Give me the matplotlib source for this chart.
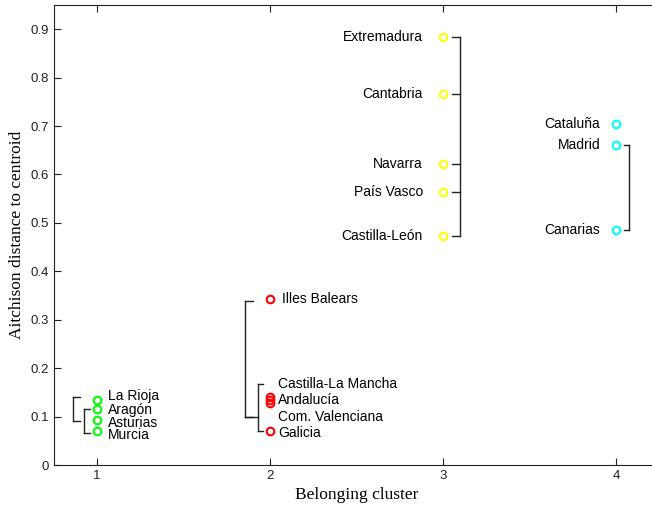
import matplotlib.pyplot as plt
import numpy as np

# regions, cluster they belong to and Aitchison distance to the centroid
regions = ['La Rioja', 'Aragón', 'Asturias', 'Murcia',
           'Illes Balears', 'Castilla-La Mancha', 'Andalucía', 'Com. Valenciana', 'Galicia',
           'Extremadura', 'Cantabria', 'Navarra', 'País Vasco', 'Castilla-León',
           'Cataluña', 'Madrid', 'Canarias']
cluster = [1, 1, 1, 1,
           2, 2, 2, 2, 2,
           3, 3, 3, 3, 3,
           4, 4, 4]
distance = [0.134, 0.115, 0.093, 0.070,
            0.342, 0.141, 0.135, 0.129, 0.070,
            0.883, 0.766, 0.622, 0.564, 0.472,
            0.704, 0.661, 0.486]
# where the names are written (spread out where the points overlap)
label_y = [0.143, 0.114, 0.087, 0.061,
           0.342, 0.167, 0.134, 0.100, 0.066,
           0.883, 0.766, 0.622, 0.564, 0.472,
           0.704, 0.661, 0.486]

colors = {1: '#00ff00', 2: '#ff0000', 3: '#ffff00', 4: '#00ffff'}

plt.rcParams['font.family'] = ['Liberation Sans', 'DejaVu Sans']

fig = plt.figure(figsize=(6.52, 5.11), dpi=100)
# axes runs past the right border like in the original
ax = fig.add_axes([53.75 / 652, 46 / 511, 605.5 / 652, 460 / 511])

for c in [1, 2, 3, 4]:
    idx = [i for i in range(len(regions)) if cluster[i] == c]
    ax.plot([cluster[i] for i in idx], [distance[i] for i in idx], 'o', ls='none',
            mfc='none', mec=colors[c], ms=5.5, mew=1.5, zorder=3)

for i in range(len(regions)):
    c = cluster[i]
    if c in [1, 2]:
        x = c + (0.064 if c == 1 else 0.046)
        if regions[i] == 'Illes Balears':
            x = c + 0.07
        ax.text(x, label_y[i], regions[i], ha='left', va='center', fontsize=10)
    else:
        x = c - (0.116 if c == 3 else 0.092)
        ax.text(x, label_y[i], regions[i], ha='right', va='center', fontsize=10)


def d(name):
    return distance[regions.index(name)]


def ly(name):
    return label_y[regions.index(name)]


def bracket(xv, xe, ys):
    # vertical line at xv with small horizontal ticks to xe at each y
    ax.plot([xv, xv], [min(ys), max(ys)], color='#222222', lw=1)
    for y in ys:
        ax.plot([xv, xe], [y, y], color='#222222', lw=1)


# cluster 1
inner1 = [d('Aragón') + 0.001, d('Murcia') - 0.004]
bracket(0.925, 0.96, inner1)
bracket(0.861, 0.90, [d('La Rioja') + 0.006, np.mean(inner1)])
# cluster 2
inner2 = [ly('Castilla-La Mancha'), d('Galicia')]
bracket(1.93, 1.96, inner2)
bracket(1.855, 1.90, [d('Illes Balears') - 0.003, ly('Com. Valenciana')])
bracket(1.855, 1.93, [ly('Com. Valenciana')])
# cluster 3
bracket(3.098, 3.05, [d(r) for r in ['Extremadura', 'Cantabria', 'Navarra', 'País Vasco', 'Castilla-León']])
# cluster 4
bracket(4.075, 4.046, [d('Madrid'), d('Canarias')])

ax.set_xlim(0.75, 4.25)
ax.set_ylim(0, 0.95)
ax.set_xticks([1, 2, 3, 4])
ax.set_yticks(np.arange(0, 0.91, 0.1))
ax.set_yticklabels(['0', '0.1', '0.2', '0.3', '0.4', '0.5', '0.6', '0.7', '0.8', '0.9'])
ax.tick_params(direction='in', top=True, right=True, length=5, labelsize=9.5,
               colors='#222222', labelcolor='#222222')
for s in ax.spines.values():
    s.set_color('#222222')
ax.set_xlabel('Belonging cluster', family=['Liberation Serif'], fontsize=12.5)
ax.set_ylabel('Aitchison distance to centroid', family=['Liberation Serif'], fontsize=12.5)

fig.savefig('out.png', dpi=100)
